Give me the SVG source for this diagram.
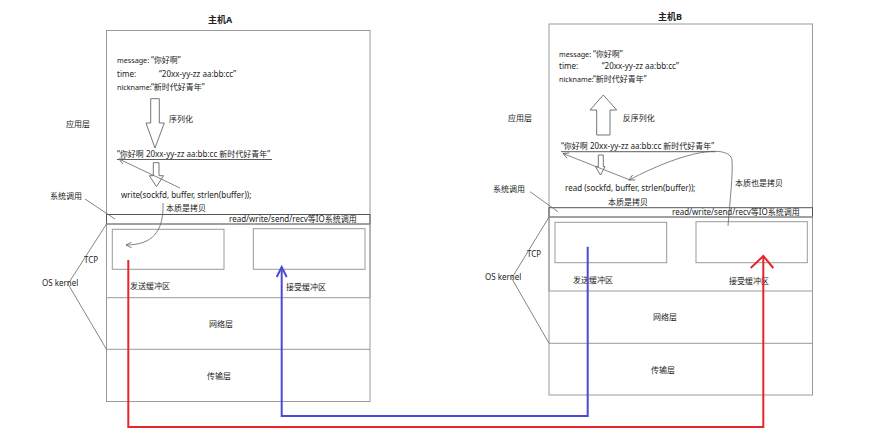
<svg xmlns="http://www.w3.org/2000/svg" width="876" height="448" viewBox="0 0 876 448">
<style>
text{font-family:"Noto Sans","Noto Sans CJK SC",sans-serif;font-size:8px;fill:#222}
.t{font-weight:bold;font-size:9px;text-anchor:middle}
.lb{font-size:7.2px}
.box{fill:none;stroke:#9a9a9a;stroke-width:1}
.dk{fill:none;stroke:#555;stroke-width:1}
.thin{fill:none;stroke:#666;stroke-width:0.8}
.blk{fill:#fff;stroke:#666;stroke-width:0.9}
.ul{stroke:#333;stroke-width:0.8}
.red{fill:none;stroke:#e8262a;stroke-width:2}
.blue{fill:none;stroke:#4b4bd6;stroke-width:2}
</style>
<defs>
<marker id="ah" viewBox="0 0 10 10" refX="9" refY="5" markerWidth="7" markerHeight="7" orient="auto" markerUnits="userSpaceOnUse"><path d="M1,1 L9,5 L1,9" fill="none" stroke="#666" stroke-width="1.2"/></marker>
</defs>
<rect width="876" height="448" fill="#fff"/>

<g id="hostA">
<text class="t" x="220" y="23">主机A</text>
<rect class="box" x="106.5" y="30.5" width="263.5" height="371"/>
<rect class="dk" x="106.5" y="214.5" width="263.5" height="9.5"/>
<rect class="box" x="106.5" y="224" width="263.5" height="73.7" stroke="#777"/>
<line class="box" x1="106.5" y1="349.3" x2="370" y2="349.3"/>
<rect class="box" x="112.3" y="229.3" width="111.7" height="40"/>
<rect class="box" x="253.3" y="228.7" width="111.7" height="40.6"/>
<text x="117" y="63"><tspan class="lb">message:</tspan><tspan x="151">“你好啊”</tspan></text>
<text x="117" y="77"><tspan>time:</tspan><tspan x="159">“20xx-yy-zz aa:bb:cc”</tspan></text>
<text x="117" y="90"><tspan class="lb">nickname:</tspan><tspan x="151">“新时代好青年”</tspan></text>
<polygon class="blk" points="150.7,98.7 159.3,98.7 159.3,123 164.3,123 155,148 146,123 150.7,123"/>
<text x="169" y="122">序列化</text>
<text x="117" y="157">“你好啊 20xx-yy-zz aa:bb:cc 新时代好青年”</text>
<line class="ul" x1="117" y1="159.5" x2="272" y2="159.5"/>
<polygon class="blk" points="153.3,162.7 159,162.7 159,175.7 163.5,175.7 156.5,186.7 149.3,175.7 153.3,175.7"/>
<text x="121" y="198">write(sockfd, buffer, strlen(buffer));</text>
<text x="166" y="211">本质是拷贝</text>
<text x="229" y="222">read/write/send/recv等IO系统调用</text>
<text x="66" y="127">应用层</text>
<text x="50" y="199">系统调用</text>
<text x="84" y="263">TCP</text>
<text x="42" y="286">OS kernel</text>
<text x="130" y="289">发送缓冲区</text>
<text x="286" y="290">接受缓冲区</text>
<text x="209" y="327">网络层</text>
<text x="207" y="379">传输层</text>
</g>

<g id="hostB">
<text class="t" x="670" y="20">主机B</text>
<rect class="box" x="549" y="24" width="263.5" height="371"/>
<rect class="dk" x="549" y="207.7" width="263.5" height="9.3"/>
<rect class="box" x="549" y="217" width="263.5" height="74" stroke="#777"/>
<line class="box" x1="549" y1="343.3" x2="812.5" y2="343.3"/>
<rect class="box" x="555" y="222.3" width="111.7" height="40.4"/>
<rect class="box" x="696" y="221.7" width="111.3" height="41"/>
<text x="559" y="57"><tspan class="lb">message:</tspan><tspan x="593">“你好啊”</tspan></text>
<text x="559" y="69"><tspan>time:</tspan><tspan x="601.7">“20xx-yy-zz aa:bb:cc”</tspan></text>
<text x="559" y="82"><tspan class="lb">nickname:</tspan><tspan x="593">“新时代好青年”</tspan></text>
<polygon class="blk" points="603.3,95 616.7,110 610,110 610,135 596.7,135 596.7,110 590,110"/>
<text x="622.7" y="121">反序列化</text>
<text x="561" y="149">“你好啊 20xx-yy-zz aa:bb:cc 新时代好青年”</text>
<line class="ul" x1="561" y1="151.7" x2="715.7" y2="151.7"/>
<polygon class="blk" points="598.3,155 603.3,155 603.3,166.7 605,166.7 600.5,175 595.5,166.7 598.3,166.7"/>
<text x="565" y="191">read (sockfd, buffer, strlen(buffer));</text>
<text x="608" y="205">本质是拷贝</text>
<text x="735" y="186">本质也是拷贝</text>
<text x="672" y="215">read/write/send/recv等IO系统调用</text>
<text x="508" y="121">应用层</text>
<text x="493" y="192">系统调用</text>
<text x="527" y="257">TCP</text>
<text x="485" y="280">OS kernel</text>
<text x="573" y="283">发送缓冲区</text>
<text x="729" y="284">接受缓冲区</text>
<text x="653" y="320">网络层</text>
<text x="651" y="373">传输层</text>
</g>

<g id="connectors">
<line class="thin" x1="180" y1="188" x2="119" y2="159" marker-end="url(#ah)"/>
<path class="thin" d="M163,203 C164,232 152,245 126,245" marker-end="url(#ah)"/>
<line class="thin" x1="85" y1="199" x2="115" y2="219"/>
<line class="thin" x1="68" y1="284" x2="106.5" y2="224"/>
<line class="thin" x1="68" y1="284" x2="106.5" y2="349.3"/>

<line class="thin" x1="630" y1="180" x2="563" y2="153.5" marker-end="url(#ah)"/>
<path class="thin" d="M728,226 C730,200 733,175 732,160 C730,145 690,148 629,180" marker-end="url(#ah)"/>
<line class="thin" x1="530" y1="191.7" x2="558" y2="211.7"/>
<line class="thin" x1="511.7" y1="278.3" x2="549" y2="217"/>
<line class="thin" x1="511.7" y1="278.3" x2="549" y2="343.3"/>

<polyline class="red" points="128.3,260 128.3,427 763.3,427 763.3,256"/>
<polyline class="red" points="750.7,268 763.3,256 773.3,268"/>
<polyline class="blue" points="587.7,246.7 587.7,416 281.7,416 281.7,267"/>
<polyline class="blue" points="276.7,277 281.7,267 286.7,277"/>
</g>
</svg>
